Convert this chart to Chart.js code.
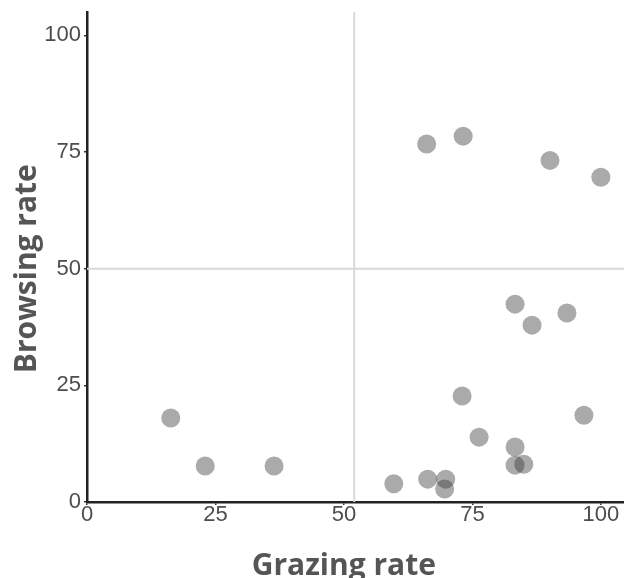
<!DOCTYPE html>
<html>
<head>
<meta charset="utf-8">
<script src="https://cdn.jsdelivr.net/npm/chart.js@4/dist/chart.umd.min.js"></script>
<style>
  html, body { margin: 0; padding: 0; background: #fff; }
  #wrap { width: 624px; height: 578px; }
</style>
</head>
<body>
<div id="wrap"><canvas id="myChart" width="624" height="578"></canvas></div>
<script>
// Grazing (x) vs browsing (y) rates
const grazing = [66.1, 73.2, 90.1, 100, 83.3, 86.6, 93.4, 16.3, 23.0, 36.4, 73.0, 76.3, 96.7, 83.3, 83.3, 85.0, 59.7, 66.3, 69.8, 69.6];
const browsing = [76.7, 78.4, 73.2, 69.6, 42.4, 37.9, 40.5, 18.0, 7.7, 7.7, 22.7, 13.9, 18.6, 11.8, 7.9, 8.1, 3.9, 4.9, 4.9, 2.8];
const xTicks = [0, 25, 50, 75, 100];
const yTicks = [0, 25, 50, 75, 100];
const xRefLine = 52;
const yRefLine = 50;

const points = grazing.map((g, i) => ({ x: g, y: browsing[i] }));

// light grey reference lines through the plot
const refLines = {
    id: 'refLines',
    beforeDatasetsDraw(chart) {
        const { ctx, chartArea, scales } = chart;
        const px = scales.x.getPixelForValue(xRefLine);
        const py = scales.y.getPixelForValue(yRefLine);
        ctx.save();
        ctx.strokeStyle = '#d9d9d9';
        ctx.lineWidth = 2;
        ctx.beginPath();
        ctx.moveTo(px, chartArea.top);
        ctx.lineTo(px, chartArea.bottom);
        ctx.moveTo(chartArea.left, py);
        ctx.lineTo(chartArea.right, py);
        ctx.stroke();
        ctx.restore();
    }
};

const tickFont = { family: 'Liberation Sans, Arial, sans-serif', size: 22 };
const titleFont = { family: 'Open Sans, sans-serif', size: 30, weight: 'bold' };

new Chart(document.getElementById('myChart'), {
    type: 'scatter',
    plugins: [refLines],
    data: {
        datasets: [{
            data: points,
            backgroundColor: 'rgba(48, 48, 48, 0.41)',
            borderWidth: 0,
            pointRadius: 9.5,
            pointHoverRadius: 9.5
        }]
    },
    options: {
        responsive: false,
        animation: false,
        layout: { autoPadding: false, padding: { top: 12, right: 0, left: 0, bottom: 0 } },
        plugins: {
            legend: { display: false },
            tooltip: { enabled: false }
        },
        scales: {
            x: {
                type: 'linear',
                min: 0,
                max: 104.5,
                afterBuildTicks: (scale) => { scale.ticks = xTicks.map(v => ({ value: v })); },
                afterFit: (scale) => { scale.height = 76; scale.paddingRight = 0; scale.paddingLeft = 0; },
                grid: { display: true, drawOnChartArea: false, tickLength: 3, color: '#333', lineWidth: 1.5 },
                border: { display: true, color: '#222', width: 2.5 },
                ticks: { font: tickFont, color: '#4d4d4d', padding: -3, maxRotation: 0 },
                title: { display: true, text: 'Grazing rate   ', font: titleFont, color: '#555', padding: { top: 21, bottom: -6 } }
            },
            y: {
                type: 'linear',
                min: 0,
                max: 105,
                afterBuildTicks: (scale) => { scale.ticks = yTicks.map(v => ({ value: v })); },
                afterFit: (scale) => { scale.width = 87; scale.paddingTop = 0; scale.paddingBottom = 0; },
                grid: { display: true, drawOnChartArea: false, tickLength: 3, color: '#333', lineWidth: 1.5 },
                border: { display: true, color: '#222', width: 2.5 },
                ticks: { font: tickFont, color: '#4d4d4d', padding: 3 },
                title: { display: true, text: 'Browsing rate   ', font: titleFont, color: '#555', padding: { top: 9, bottom: 0 } }
            }
        }
    }
});
</script>
</body>
</html>
